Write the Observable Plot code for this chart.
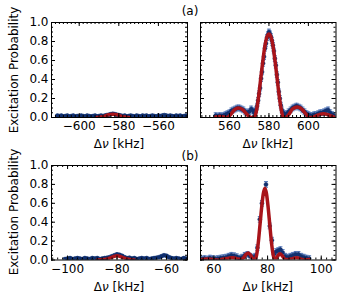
<!DOCTYPE html>
<html><head><meta charset="utf-8">
<script src="https://cdn.jsdelivr.net/npm/d3@7"></script>
<script src="https://cdn.jsdelivr.net/npm/@observablehq/plot@0.6"></script>
<style>
body{margin:0;background:#fff;}
#fig{position:relative;width:339px;height:296px;font-family:"DejaVu Sans",sans-serif;font-size:12px;color:#000;overflow:hidden;}
#fig svg{position:absolute;overflow:visible;}
.lab{position:absolute;white-space:nowrap;transform:translate(-50%,-50%);line-height:1;}
.rot{transform:translate(-50%,-50%) rotate(-90deg);}
</style></head><body><div id="fig"></div>
<script>
// ---- (a) left: around -580 kHz
const a1Freq = [-611,-610,-609,-608,-607,-606,-605,-604,-603,-602,-601,-600,-599,-598,-597,-596,-595,-594,-593,-592,-591,-590,-589,-588,-587,-586,-585,-584,-583,-582,-581,-580,-579,-578,-577,-576,-575,-574,-573,-572,-571,-570,-569,-568,-567,-566,-565,-564,-563,-562,-561,-560,-559,-558,-557,-556,-555,-554,-553,-552,-551,-550,-549,-548,-547,-546];
const a1Prob = [0.02,0.015,0.02,0.01,0.015,0.02,0.01,0.015,0.02,0.01,0.015,0.01,0.02,0.015,0.01,0.02,0.015,0.01,0.015,0.02,0.01,0.015,0.02,0.015,0.02,0.025,0.03,0.035,0.04,0.035,0.03,0.025,0.02,0.015,0.02,0.01,0.015,0.02,0.015,0.01,0.02,0.015,0.01,0.02,0.015,0.02,0.01,0.015,0.02,0.015,0.01,0.02,0.015,0.02,0.025,0.02,0.015,0.02,0.015,0.01,0.02,0.015,0.02,0.01,0.015,0.02];
const a1FitFreq = [-591,-589,-587,-585,-583,-581,-579,-577,-575];
const a1FitProb = [0,0.005,0.015,0.03,0.035,0.03,0.015,0.005,0];
const a1Err = 0.012;

// ---- (a) right: around +580 kHz
const a2Freq = [553,554,555,556,557,558,559,560,561,562,563,564,565,566,567,568,569,570,571,572,572.5,573,573.5,574,574.5,575,575.5,576,576.5,577,577.5,578,578.5,579,579.5,580,580.5,581,581.5,582,582.5,583,583.5,584,584.5,585,585.5,586,586.5,587,587.5,588,589,590,591,592,593,594,595,596,597,598,599,600,601,602,603,604,605,606,607,608,609,610,611,612,613];
const a2Prob = [0.02,0.01,0.02,0.015,0.02,0.03,0.04,0.05,0.07,0.08,0.09,0.10,0.10,0.09,0.08,0.06,0.05,0.06,0.09,0.07,0.05,0.06,0.08,0.12,0.18,0.25,0.31,0.41,0.48,0.57,0.64,0.73,0.78,0.84,0.87,0.90,0.88,0.85,0.81,0.76,0.70,0.62,0.55,0.45,0.37,0.27,0.20,0.13,0.08,0.05,0.04,0.03,0.04,0.06,0.08,0.10,0.11,0.12,0.11,0.10,0.08,0.06,0.04,0.03,0.02,0.02,0.03,0.03,0.04,0.05,0.05,0.06,0.07,0.08,0.05,0.03,0.02];
const a2FitFreq = [553,555,557,558.8,560.5,562.5,564.5,566.5,568.5,570,571,572.6,573,574,575,576,577,578,579,580,581,582,583,584,585,586,587,587.4,588.5,590,592,594.5,597,599,600.5,602,604,607.5,611,613];
const a2FitProb = [0.005,0.01,0.005,0,0.03,0.08,0.10,0.085,0.04,0.01,0,0,0.015,0.11,0.26,0.44,0.61,0.76,0.85,0.88,0.85,0.76,0.61,0.44,0.26,0.11,0.015,0,0,0.03,0.09,0.11,0.08,0.03,0,0,0.02,0.04,0.02,0.005];
const a2Err = 0.03;

// ---- (b) left: around -80 kHz
const b1Freq = [-101,-100,-99,-98,-97,-96,-95,-94,-93,-92,-91,-90,-89,-88,-87,-86,-85,-84,-83,-82,-81,-80,-79,-78,-77,-76,-75,-74,-73,-72,-71,-70,-69,-68,-67,-66,-65,-64,-63,-62,-61,-60,-59,-58,-57,-56,-55,-54,-53,-52];
const b1Prob = [0.01,0.015,0.02,0.01,0.015,0.02,0.015,0.01,0.02,0.015,0.01,0.02,0.015,0.02,0.01,0.015,0.02,0.025,0.03,0.04,0.05,0.06,0.055,0.045,0.03,0.02,0.025,0.015,0.02,0.01,0.015,0.02,0.015,0.02,0.01,0.015,0.02,0.025,0.03,0.04,0.05,0.045,0.03,0.02,0.015,0.02,0.015,0.01,0.02,0.015];
const b1FitFreq = [-88,-85,-83,-81,-80,-79,-77,-75,-73];
const b1FitProb = [0,0.005,0.02,0.04,0.045,0.04,0.02,0.005,0];
const b1Err = 0.012;

// ---- (b) right: around +80 kHz
const b2Freq = [55.5,56.5,57.5,58.5,59.5,60.5,61.5,62.5,63.5,64.5,65.5,66.5,67.5,68.5,69.5,70.5,71.5,72.5,73.5,74.5,75.4,76.2,77.1,77.9,79.4,80.8,81.6,82.4,83.2,84,84.8,85.6,86.5,87.5,88.5,89.5,90.5,91.5,92.5,93.5,94.5,95.5];
const b2Prob = [0.01,0.015,0.01,0.02,0.015,0.01,0.015,0.02,0.025,0.03,0.04,0.05,0.045,0.035,0.02,0.03,0.05,0.06,0.04,0.03,0.04,0.13,0.43,0.60,0.80,0.36,0.21,0.06,0.09,0.10,0.11,0.08,0.04,0.03,0.04,0.05,0.06,0.06,0.04,0.03,0.02,0.015];
const b2FitFreq = [55.5,57.5,59.5,61.5,63.5,65.5,67,68.5,70,71,72,72.8,73.6,74.4,75.2,75.9,76.6,77.2,77.8,78.4,79,79.6,80.2,80.8,81.4,82.1,82.8,83.7,84.6,85.6,86.6,87.8,89.3,90.9,92.3,93.8,95.5];
const b2FitProb = [0.005,0.01,0.005,0,0.01,0.02,0.025,0.015,0.005,0.02,0.06,0.075,0.055,0.015,0,0.05,0.2,0.38,0.56,0.70,0.76,0.70,0.56,0.38,0.2,0.05,0,0.04,0.065,0.04,0.005,0.005,0.015,0.025,0.01,0,0.005];
const b2Err = 0.03;

// ---- axes ticks
const xMajorA1 = [-600,-580,-560];
const xMajorA2 = [560,580,600];
const xMajorB1 = [-100,-80,-60];
const xMajorB2 = [60,80,100];
const yMajor = [0,0.2,0.4,0.6,0.8,1.0];
const yLabel = "Excitation Probability";
const panelLabels = ["(a)","(b)"];

const RED = "#a8141a", NAVY = "#11306f", BAR = "#5577b8";

const zip = (f, p) => f.map((v, i) => ({f: v, p: p[i]}));

const capSymbol = {draw(ctx, size) { const r = Math.sqrt(size / Math.PI); ctx.moveTo(-r, 0); ctx.lineTo(r, 0); }};

const panels = [
  {x0: 51, y0: 22, w: 136, h: 95, domain: [-614, -545.3], major: xMajorA1, data: zip(a1Freq, a1Prob), fit: zip(a1FitFreq, a1FitProb), err: a1Err, yAxis: true},
  {x0: 200, y0: 22, w: 135.5, h: 95, domain: [545.3, 614], major: xMajorA2, data: zip(a2Freq, a2Prob), fit: zip(a2FitFreq, a2FitProb), err: a2Err, yAxis: false},
  {x0: 51, y0: 165, w: 136, h: 94.5, domain: [-106.5, -51.5], major: xMajorB1, data: zip(b1Freq, b1Prob), fit: zip(b1FitFreq, b1FitProb), err: b1Err, yAxis: true},
  {x0: 200, y0: 165, w: 135.5, h: 94.5, domain: [55, 105.5], major: xMajorB2, data: zip(b2Freq, b2Prob), fit: zip(b2FitFreq, b2FitProb), err: b2Err, yAxis: false}
];

const fig = document.getElementById("fig");

for (const p of panels) {
  const mL = 34, mR = 6, mT = 6, mB = 22;
  const W = p.w + mL + mR, H = p.h + mT + mB;
  const minorX = d3.range(Math.ceil(p.domain[0] / 2) * 2, p.domain[1], 2);
  const minorY = d3.range(0, 1.0001, 0.05);
  const e = p.err;
  const marks = [
    Plot.ruleX(p.data, {x: "f", y1: d => d.p - e, y2: d => d.p + e, stroke: BAR, strokeWidth: 1, clip: true}),
    Plot.dot(p.data, {x: "f", y: d => d.p + e, symbol: capSymbol, r: 2, fill: "none", stroke: BAR, strokeWidth: 1, clip: true}),
    Plot.dot(p.data, {x: "f", y: d => d.p - e, symbol: capSymbol, r: 2, fill: "none", stroke: BAR, strokeWidth: 1, clip: true}),
    Plot.dot(p.data, {x: "f", y: "p", r: 2, fill: NAVY, stroke: NAVY, strokeWidth: 0.5, clip: true}),
    Plot.line(p.fit, {x: "f", y: "p", stroke: RED, strokeWidth: 3.5, curve: "monotone-x", clip: true}),
    // inward ticks
    Plot.ruleX(minorX, {x: d => d, insetTop: p.h - 2, stroke: "black"}),
    Plot.ruleX(minorX, {x: d => d, insetBottom: p.h - 2, stroke: "black"}),
    Plot.ruleX(p.major, {x: d => d, insetTop: p.h - 4, stroke: "black"}),
    Plot.ruleX(p.major, {x: d => d, insetBottom: p.h - 4, stroke: "black"}),
    Plot.ruleY(minorY, {y: d => d, insetRight: p.w - 2, stroke: "black"}),
    Plot.ruleY(minorY, {y: d => d, insetLeft: p.w - 2, stroke: "black"}),
    Plot.ruleY(yMajor, {y: d => d, insetRight: p.w - 4, stroke: "black"}),
    Plot.ruleY(yMajor, {y: d => d, insetLeft: p.w - 4, stroke: "black"}),
    Plot.frame({stroke: "black", strokeWidth: 1}),
    Plot.axisX(p.major, {anchor: "bottom", tickSize: 0, tickPadding: 4, label: null, fontSize: 12})
  ];
  if (p.yAxis) marks.push(Plot.axisY(yMajor, {anchor: "left", tickSize: 0, tickPadding: 3, label: null, fontSize: 12, tickFormat: d3.format(".1f")}));
  const chart = Plot.plot({
    width: W, height: H,
    marginLeft: mL, marginRight: mR, marginTop: mT, marginBottom: mB,
    x: {domain: p.domain, axis: null},
    y: {domain: [0, 1], axis: null},
    style: {fontFamily: "DejaVu Sans, sans-serif", fontSize: "12px", background: "transparent", color: "black"},
    marks
  });
  chart.style.left = (p.x0 - mL) + "px";
  chart.style.top = (p.y0 - mT) + "px";
  fig.appendChild(chart);

  const xl = document.createElement("div");
  xl.className = "lab";
  xl.innerHTML = "Δ<i>ν</i> [kHz]";
  xl.style.left = (p.x0 + p.w / 2) + "px";
  xl.style.top = (p.y0 + p.h + 27) + "px";
  fig.appendChild(xl);

  if (p.yAxis) {
    const yl = document.createElement("div");
    yl.className = "lab rot";
    yl.textContent = yLabel;
    yl.style.left = "14px";
    yl.style.top = (p.y0 + p.h / 2) + "px";
    fig.appendChild(yl);
  }
}

panelLabels.forEach((t, i) => {
  const d = document.createElement("div");
  d.className = "lab";
  d.textContent = t;
  d.style.left = "190px";
  d.style.top = (i === 0 ? 11 : 156) + "px";
  fig.appendChild(d);
});
</script>
</body></html>
